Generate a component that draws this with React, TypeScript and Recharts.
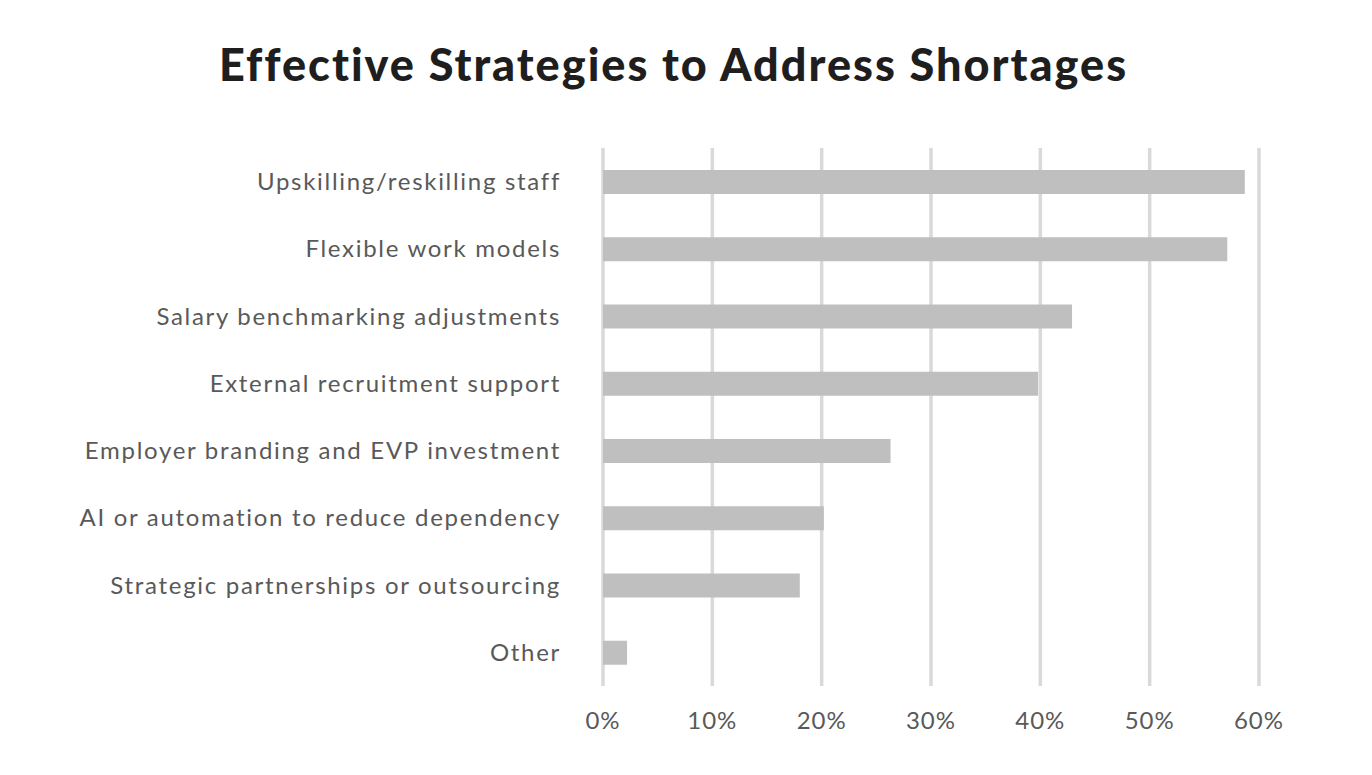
import { Bar, BarChart, CartesianGrid, XAxis, YAxis } from "recharts";

// survey answers, top to bottom
const strategies = [
  "Upskilling/reskilling staff",
  "Flexible work models",
  "Salary benchmarking adjustments",
  "External recruitment support",
  "Employer branding and EVP investment",
  "AI or automation to reduce dependency",
  "Strategic partnerships or outsourcing",
  "Other",
];
const shares = [58.7, 57.1, 42.9, 39.8, 26.3, 20.2, 18.0, 2.2];
const ticks = [0, 10, 20, 30, 40, 50, 60];

const data = strategies.map((name, i) => ({ name, value: shares[i] }));

const FONT = "Lato, 'Open Sans', sans-serif";

export default function App() {
  return (
    <div
      style={{
        position: "absolute",
        left: 0,
        top: 0,
        width: 1372,
        height: 775,
        background: "#ffffff",
        fontFamily: FONT,
      }}
    >
      <div
        style={{
          position: "absolute",
          left: 0,
          top: 36,
          width: 1347,
          textAlign: "center",
          fontSize: 45,
          fontWeight: 900,
          letterSpacing: 2,
          color: "#1e1e1e",
          lineHeight: "56px",
        }}
      >
        Effective Strategies to Address Shortages
      </div>
      <BarChart
        width={1372}
        height={775}
        data={data}
        layout="vertical"
        margin={{ top: 148, right: 113, bottom: 29, left: 0 }}
        barCategoryGap={0}
      >
        <CartesianGrid
          horizontal={false}
          stroke="#d9d9d9"
          strokeWidth={3.5}
        />
        <XAxis
          type="number"
          domain={[0, 60]}
          ticks={ticks}
          tickFormatter={(v) => `${v}%`}
          axisLine={false}
          tickLine={false}
          height={60}
          tickMargin={20}
          tick={{ fill: "#595959", fontSize: 24, fontFamily: FONT, letterSpacing: 1 }}
        />
        <YAxis
          type="category"
          dataKey="name"
          width={603}
          axisLine={false}
          tickLine={false}
          tickMargin={36}
          interval={0}
          tick={{ fill: "#595959", fontSize: 24, fontFamily: FONT, letterSpacing: 1.7 }}
        />
        <Bar
          dataKey="value"
          fill="#bfbfbf"
          barSize={24}
          isAnimationActive={false}
        />
      </BarChart>
    </div>
  );
}
